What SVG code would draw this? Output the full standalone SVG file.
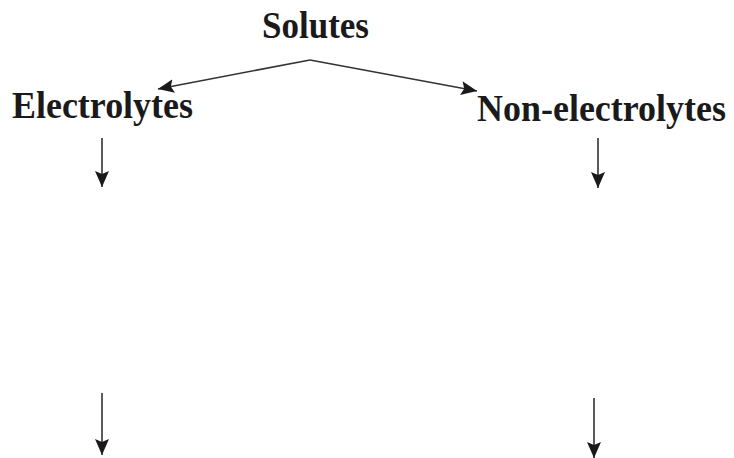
<svg xmlns="http://www.w3.org/2000/svg" width="734" height="458" viewBox="0 0 734 458">
<style>
.lbl{font-family:"Liberation Serif","Times New Roman",serif;font-weight:bold;font-size:37px;fill:#1a1a1a}
.con{stroke:#333;stroke-width:1.6;fill:none;marker-end:url(#ah)}
</style>
<defs>
<marker id="ah" markerUnits="userSpaceOnUse" markerWidth="17" markerHeight="15" refX="16" refY="7" orient="auto">
<path d="M0,0 L16,7 L0,14 L3,7 Z" fill="#1a1a1a"/>
</marker>
</defs>
<rect width="734" height="458" fill="#fff"/>
<g id="solutes"><text class="lbl" x="262" y="38" textLength="107" lengthAdjust="spacingAndGlyphs">Solutes</text></g>
<g id="electrolytes"><text class="lbl" x="12" y="118" textLength="181" lengthAdjust="spacingAndGlyphs">Electrolytes</text></g>
<g id="non-electrolytes"><text class="lbl" x="477" y="121" textLength="249" lengthAdjust="spacingAndGlyphs">Non-electrolytes</text></g>
<g id="connectors">
<path class="con" d="M310,60 L158,89"/>
<path class="con" d="M310,60 L477,91"/>
<path class="con" d="M102,138 L102,187"/>
<path class="con" d="M598,138 L598,188"/>
<path class="con" d="M102,393 L102,455"/>
<path class="con" d="M594,398 L594,458"/>
</g>
</svg>
